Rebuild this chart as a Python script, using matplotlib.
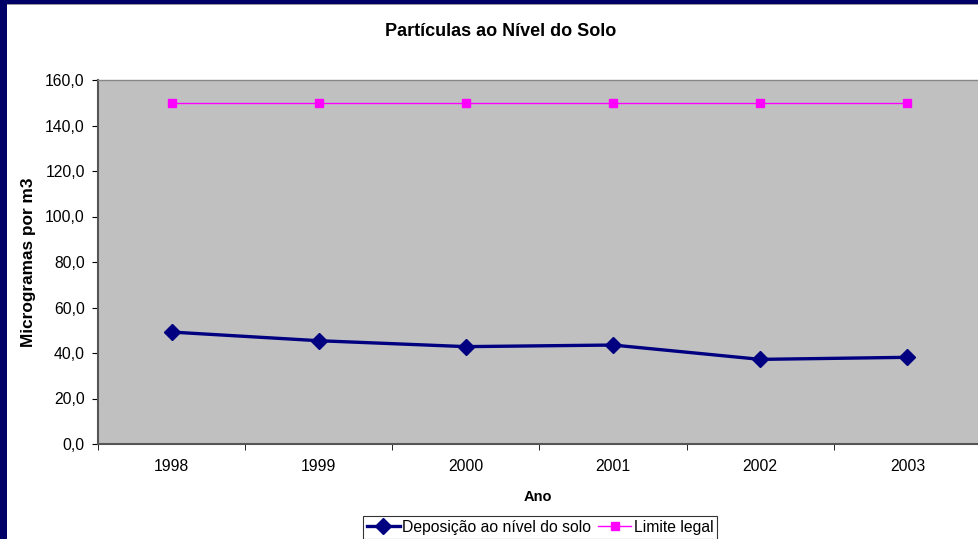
import matplotlib.pyplot as plt
from matplotlib.patches import Rectangle

plt.rcParams['font.family'] = ['Liberation Sans', 'DejaVu Sans']

anos = ['1998', '1999', '2000', '2001', '2002', '2003']
deposicao = [49.2, 45.4, 42.8, 43.5, 37.2, 38.1]
limite = [150, 150, 150, 150, 150, 150]
yticks = [0, 20, 40, 60, 80, 100, 120, 140, 160]

fig = plt.figure(figsize=(9.79, 5.39), dpi=100)
fig.patch.set_facecolor('white')

# navy frame (left and top) with thin grey line under the top band
fig.patches.append(Rectangle((0, 0), 7 / 979, 1, transform=fig.transFigure,
                             facecolor='#000066', edgecolor='none', zorder=0))
fig.patches.append(Rectangle((0, 1 - 4 / 539), 1, 4 / 539, transform=fig.transFigure,
                             facecolor='#000066', edgecolor='none', zorder=0))
fig.patches.append(Rectangle((7 / 979, 1 - 5 / 539), 1, 1 / 539, transform=fig.transFigure,
                             facecolor='#999999', edgecolor='none', zorder=0))

ax = fig.add_axes([98 / 979, 1 - 444 / 539, 1 - 98 / 979 + 0.002, (444 - 80) / 539])
ax.set_facecolor('#c0c0c0')

x = range(len(anos))
ax.plot(x, deposicao, color='#000080', lw=2.4, marker='D', ms=8,
        label='Deposição ao nível do solo')
ax.plot(x, limite, color='#ff00ff', lw=1, marker='s', ms=5.8,
        label='Limite legal')

ax.set_xlim(-0.5, len(anos) - 0.5)
ax.set_ylim(0, 160)
ax.set_yticks(yticks)
ax.set_yticklabels([f'{v:.1f}'.replace('.', ',') for v in yticks], fontsize=11.3)
ax.set_xticks(list(x))
ax.set_xticklabels(anos, fontsize=11.3)
ax.set_xticks([i - 0.5 for i in range(len(anos) + 1)], minor=True)
ax.tick_params(axis='x', which='major', length=0, pad=11)
ax.tick_params(axis='x', which='minor', length=4, direction='out', color='black')
ax.tick_params(axis='y', length=4, direction='out', color='black', pad=5.5)

for s in ['left', 'bottom']:
    ax.spines[s].set_color('#555555')
    ax.spines[s].set_linewidth(1.5)
ax.spines['top'].set_color('#888888')
ax.spines['top'].set_linewidth(1)
ax.spines['right'].set_visible(False)

fig.text(500.5 / 979, 1 - 31 / 539, 'Partículas ao Nível do Solo', ha='center', va='center',
         fontsize=13, fontweight='bold')
fig.text(29 / 979, 1 - 262 / 539, 'Microgramas por m3', ha='center', va='center',
         rotation=90, fontsize=12.4, fontweight='bold')
fig.text(538 / 979, 1 - 497 / 539, 'Ano', ha='center', va='center',
         fontsize=10.5, fontweight='bold')

leg = fig.legend(loc='upper left', bbox_to_anchor=(363 / 979, 1 - 516 / 539), ncol=2,
                 fontsize=11.3, frameon=True, fancybox=False, edgecolor='black',
                 borderpad=0.25, handlelength=2.1, handletextpad=0.15, columnspacing=0.45,
                 borderaxespad=0)
leg.get_frame().set_linewidth(0.8)

fig.savefig('out.png', dpi=100)
